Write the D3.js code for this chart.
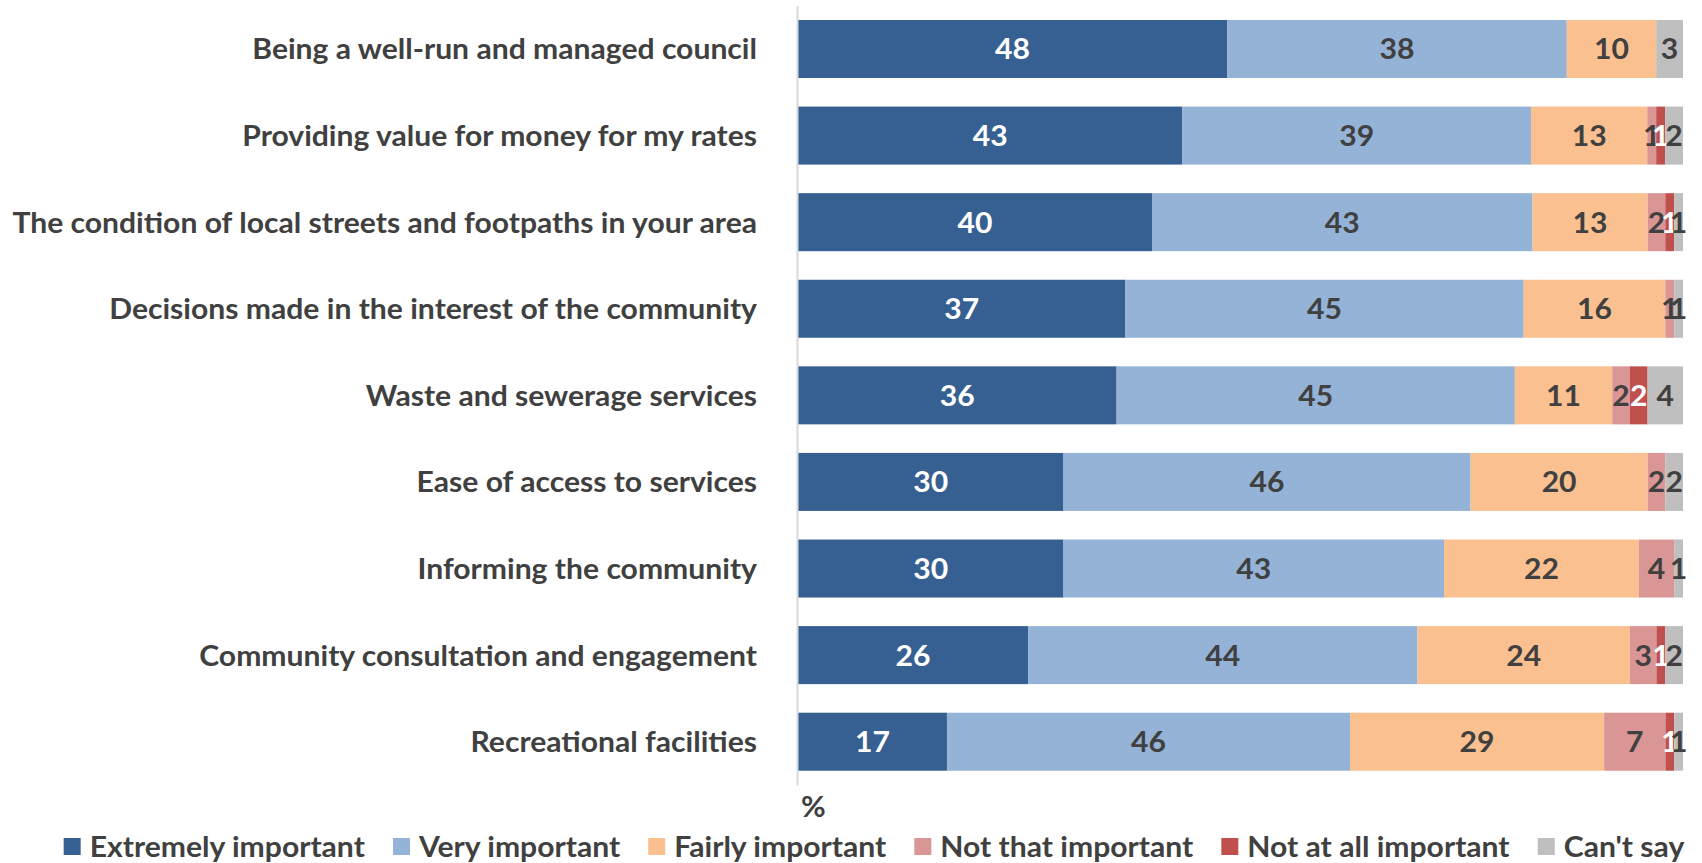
<!DOCTYPE html>
<html>
<head>
<meta charset="utf-8">
<script src="https://cdn.jsdelivr.net/npm/d3@7"></script>
<style>
  body { margin: 0; background: #ffffff; }
  svg text { font-family: Lato, "Open Sans", sans-serif; font-weight: 700; }
</style>
</head>
<body>
<svg id="chart" width="1702" height="863"></svg>
<script>
// Survey attributes, top to bottom
const categories = [
  "Being a well-run and managed council",
  "Providing value for money for my rates",
  "The condition of local streets and footpaths in your area",
  "Decisions made in the interest of the community",
  "Waste and sewerage services",
  "Ease of access to services",
  "Informing the community",
  "Community consultation and engagement",
  "Recreational facilities"
];

const seriesNames = [
  "Extremely important",
  "Very important",
  "Fairly important",
  "Not that important",
  "Not at all important",
  "Can't say"
];

// Percentages per series (null = no response in that band)
const extremelyImportant = [48, 43, 40, 37, 36, 30, 30, 26, 17];
const veryImportant      = [38, 39, 43, 45, 45, 46, 43, 44, 46];
const fairlyImportant    = [10, 13, 13, 16, 11, 20, 22, 24, 29];
const notThatImportant   = [null, 1, 2, 1, 2, 2, 4, 3, 7];
const notAtAllImportant  = [null, 1, 1, null, 2, null, null, 1, 1];
const cantSay            = [3, 2, 1, 1, 4, 2, 1, 2, 1];

const seriesValues = [extremelyImportant, veryImportant, fairlyImportant,
                      notThatImportant, notAtAllImportant, cantSay];

const seriesColors = ["#376092", "#95B3D7", "#FAC090", "#DA9694", "#C0504D", "#BFBFBF"];
const valueLabelColors = ["#ffffff", "#404040", "#404040", "#404040", "#ffffff", "#404040"];
const textColor = "#404040";
const axisLabel = "%";

const svg = d3.select("#chart");

// Rows of the stacked table
const rows = categories.map((c, i) => {
  const r = { category: c };
  seriesNames.forEach((s, j) => { r[s] = seriesValues[j][i]; });
  return r;
});

// 100% stacked: each row is expanded to the full width
const stack = d3.stack()
  .keys(seriesNames)
  .value((d, key) => d[key] == null ? 0 : d[key])
  .offset(d3.stackOffsetExpand);
const layers = stack(rows);

const x = d3.scaleLinear().domain([0, 1]).range([798, 1683]);
const y = d3.scaleBand()
  .domain(categories)
  .range([5.7, 785])
  .paddingInner(0.33)
  .paddingOuter(0.165);

const fontSize = 29;

// Horizontal squeeze factor so the widest category label spans its slot
const probe = svg.append("text").attr("font-size", fontSize)
  .text(categories[2]);
const widest = probe.node().getComputedTextLength();
probe.remove();
const k = 745 / widest;

function squeezedText(parent, px, py, str, anchor, fill) {
  const g = parent.append("g").attr("transform", `translate(${px},${py}) scale(${k},1)`);
  g.append("text")
    .attr("font-size", fontSize)
    .attr("text-anchor", anchor)
    .attr("fill", fill)
    .text(str);
  return g;
}

// Bars
const barG = svg.append("g");
layers.forEach((layer, j) => {
  barG.append("g")
    .attr("fill", seriesColors[j])
    .selectAll("rect")
    .data(layer)
    .join("rect")
    .attr("x", d => x(d[0]))
    .attr("y", d => y(d.data.category))
    .attr("width", d => x(d[1]) - x(d[0]))
    .attr("height", y.bandwidth());
});

// Category axis line
svg.append("g")
  .attr("transform", "translate(797,0)")
  .call(d3.axisLeft(y).tickSize(0).tickSizeOuter(0).tickFormat(""))
  .call(g => g.select(".domain").attr("stroke", "#D9D9D9").attr("stroke-width", 2));

// Category labels
const catG = svg.append("g");
categories.forEach(c => {
  squeezedText(catG, 757, y(c) + y.bandwidth() / 2 + fontSize * 0.36, c, "end", textColor);
});

// Value labels centred in each segment
const valG = svg.append("g");
layers.forEach((layer, j) => {
  layer.forEach(d => {
    const v = d.data[seriesNames[j]];
    if (v == null) return;
    const cx = (x(d[0]) + x(d[1])) / 2;
    const cy = y(d.data.category) + y.bandwidth() / 2 + fontSize * 0.36;
    squeezedText(valG, cx, cy, String(v), "middle", valueLabelColors[j]);
  });
});

// Unit label under the axis
squeezedText(svg, 801, 817, axisLabel, "start", textColor);

// Legend
const legendG = svg.append("g");
const sq = 17, sqGap = 9, itemGap = 28;
const widths = seriesNames.map(s => {
  const t = svg.append("text").attr("font-size", fontSize).text(s);
  const w = t.node().getComputedTextLength() * k;
  t.remove();
  return w;
});
const total = d3.sum(widths) + seriesNames.length * (sq + sqGap) + itemGap * (seriesNames.length - 1);
let lx = 874 - total / 2;
seriesNames.forEach((s, j) => {
  legendG.append("rect")
    .attr("x", lx).attr("y", 838)
    .attr("width", sq).attr("height", sq)
    .attr("fill", seriesColors[j]);
  squeezedText(legendG, lx + sq + sqGap, 857, s, "start", textColor);
  lx += sq + sqGap + widths[j] + itemGap;
});
</script>
</body>
</html>
